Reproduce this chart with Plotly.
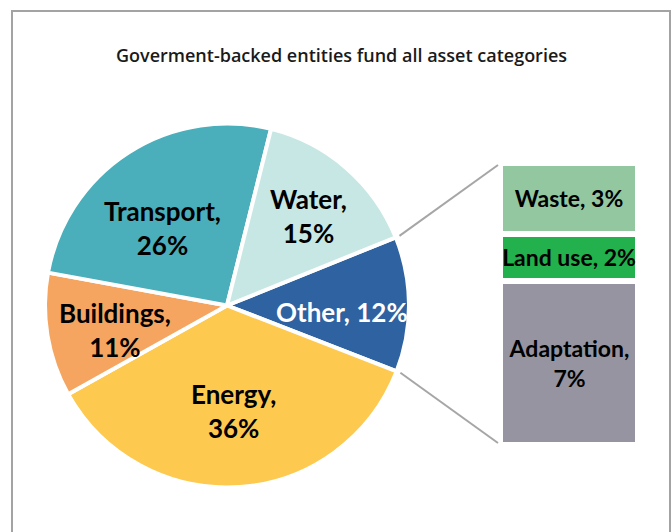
import math
import plotly.graph_objects as go

# ---- data ----
pie_labels = ["Other", "Energy", "Buildings", "Transport", "Water"]
pie_values = [12, 36, 11, 26, 15]
pie_colors = ["#2E62A0", "#FDC94F", "#F5A55F", "#4BAEBB", "#C6E7E3"]
pie_text_colors = ["white", "black", "black", "black", "black"]
pie_text = ["Other, 12%", "Energy,<br>36%", "Buildings,<br>11%", "Transport,<br>26%", "Water,<br>15%"]

bar_labels = ["Adaptation", "Land use", "Waste"]
bar_values = [7, 2, 3]
bar_colors = ["#9594A0", "#22B14C", "#93C7A0"]
bar_text = ["Adaptation,<br>7%", "Land use, 2%", "Waste, 3%"]

title_text = "Goverment-backed entities fund all asset categories"

W, H = 672, 532
FONT = "Open Sans"
LABEL_FONT = "Lato"

# ---- geometry (pixels) ----
cx, cy, r = 227.0, 305.5, 182.0
rotation = 68  # degrees clockwise from 12 o'clock where the first slice starts
# label offsets from the pie centre (px), in slice order
label_offsets = [(114.5, 6.5), (6.5, 105.0), (-112.0, 24.0), (-64.5, -77.5), (81.5, -90.0)]
bx0, bx1, by0, by1 = 500.0, 638.0, 163.0, 445.0


def px(x):
    return x / W


def py(y):
    return 1 - y / H


fig = go.Figure()

fig.add_trace(go.Pie(
    labels=pie_labels,
    values=pie_values,
    sort=False,
    direction="clockwise",
    rotation=rotation,
    marker=dict(colors=pie_colors, line=dict(color="white", width=4)),
    textinfo="none",
    domain=dict(x=[px(cx - r), px(cx + r)], y=[py(cy + r), py(cy - r)]),
    showlegend=False,
    hoverinfo="label+value",
))

for lab, val, col, txt in zip(bar_labels, bar_values, bar_colors, bar_text):
    fig.add_trace(go.Bar(
        x=[0], y=[val], width=1,
        marker=dict(color=col, line=dict(color="white", width=6)),
        text=[txt], textposition="inside", insidetextanchor="middle",
        textangle=0, constraintext="none",
        textfont=dict(family=LABEL_FONT, size=23, color="black", weight="bold"),
        xaxis="x2", yaxis="y2", showlegend=False, name=lab,
    ))

annotations = []
for txt, tc, (dx, dy) in zip(pie_text, pie_text_colors, label_offsets):
    annotations.append(dict(text=txt, x=px(cx + dx), y=py(cy + dy), xref="paper", yref="paper",
                            showarrow=False, xanchor="center", yanchor="middle",
                            font=dict(family=LABEL_FONT, size=26, color=tc, weight="bold")))

annotations.append(dict(text=title_text, x=px(341), y=py(55), xref="paper", yref="paper",
                        showarrow=False, xanchor="center", yanchor="middle",
                        font=dict(family=FONT, size=18, color="#1a1a1a", weight=600)))

# connector lines from the "Other" slice edges to the bar
total = sum(pie_values)
a_start = math.radians(rotation)
a_end = math.radians(rotation + 360 * pie_values[0] / total)
rr = r + 4
p1 = (cx + rr * math.sin(a_start), cy - rr * math.cos(a_start))
p2 = (cx + rr * math.sin(a_end), cy - rr * math.cos(a_end))
shapes = [
    dict(type="line", xref="paper", yref="paper",
         x0=px(p1[0]), y0=py(p1[1]), x1=px(bx0 - 2), y1=py(by0 + 2),
         line=dict(color="#A6A6A6", width=2)),
    dict(type="line", xref="paper", yref="paper",
         x0=px(p2[0]), y0=py(p2[1]), x1=px(bx0 - 2), y1=py(by1 - 2),
         line=dict(color="#A6A6A6", width=2)),
    dict(type="rect", xref="paper", yref="paper",
         x0=px(12), y0=py(11), x1=px(670), y1=-0.1,
         line=dict(color="#A3A3A3", width=2), fillcolor="rgba(0,0,0,0)"),
]

fig.update_layout(
    width=W, height=H,
    margin=dict(l=0, r=0, t=0, b=0),
    paper_bgcolor="white", plot_bgcolor="white",
    barmode="stack",
    xaxis2=dict(domain=[px(bx0), px(bx1)], range=[-0.5, 0.5], visible=False, anchor="y2", fixedrange=True),
    yaxis2=dict(domain=[py(by1), py(by0)], range=[0, sum(bar_values)], visible=False, anchor="x2", fixedrange=True),
    xaxis=dict(visible=False), yaxis=dict(visible=False),
    shapes=shapes,
    annotations=annotations,
    font=dict(family=FONT),
)

fig.write_html("out.html")
